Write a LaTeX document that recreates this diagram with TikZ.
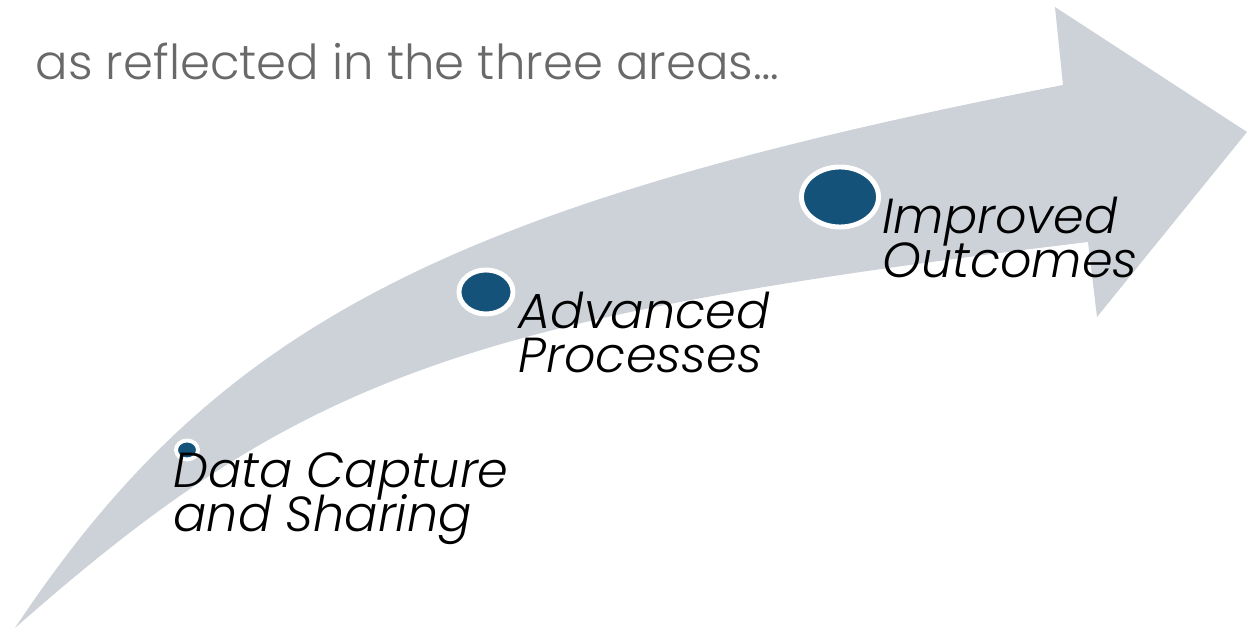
\documentclass[tikz,border=0pt]{standalone}
\usepackage{fontspec}
\setmainfont{Poppins}[UprightFont=*-Light, ItalicFont=*-LightItalic]
\usetikzlibrary{shapes.geometric}

\definecolor{arrowgray}{RGB}{205,210,217}
\definecolor{dotblue}{RGB}{21,82,122}
\definecolor{titlegray}{RGB}{105,105,105}

\newcommand\tightlines{\lineskiplimit-20pt\relax}

\begin{document}
\begin{tikzpicture}[x=0.01cm, y=-0.01cm, align=left]

    \tikzstyle{stage dot}=[ellipse, draw=white, line width=1.4pt, fill=dotblue, inner sep=0pt]
    \tikzstyle{stage text}=[anchor=base west, inner sep=0pt, font=\fontsize{14}{12.6}\selectfont\itshape\tightlines]

    \useasboundingbox (0,0) rectangle (1247,631);

    % big curved arrow
    \fill[arrowgray] (15,628) .. controls (216,325) and (447,205) .. (1063,85)
        -- (1055,7) -- (1247,132) -- (1097,317) -- (1088,242)
        .. controls (462,318) and (301,376) .. (15,628) -- cycle;

    \node[anchor=base west, inner sep=0pt, text=titlegray, font=\fontsize{13.7}{16}\selectfont] (title) at (35,80) {as reflected in the three areas…};

    \node[stage dot, minimum width=0.22cm, minimum height=0.19cm, line width=1.1pt] (data)     at (187,450) {};
    \node[stage dot, minimum width=0.54cm, minimum height=0.44cm]                   (advanced) at (486,292) {};
    \node[stage dot, minimum width=0.77cm, minimum height=0.60cm]                   (improved) at (840,197) {};

    % base west sits on the last line
    \node[stage text] (datatext)     at (173,532) {Data Capture\\and Sharing};
    \node[stage text] (advancedtext) at (518,373) {Advanced\\Processes};
    \node[stage text] (improvedtext) at (882,278) {Improved\\Outcomes};
\end{tikzpicture}
\end{document}
